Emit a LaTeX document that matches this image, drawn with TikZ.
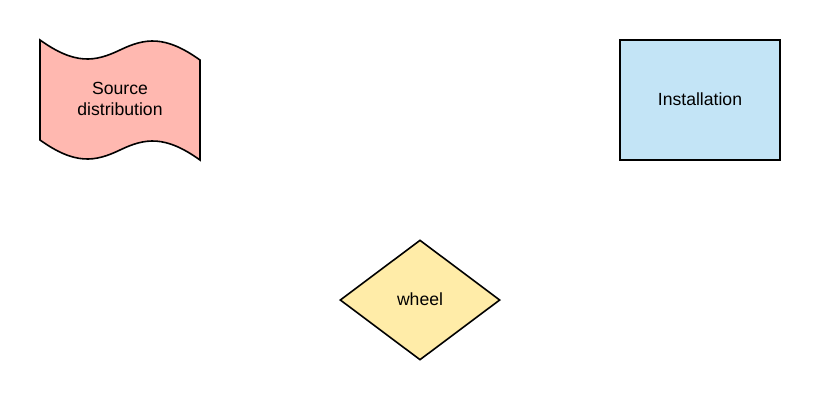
\documentclass[tikz,border=0pt]{standalone}
\usepackage{fontspec}
\setmainfont{Liberation Sans}
\usepackage{tikz}
\usetikzlibrary{shapes.geometric}

\definecolor{tapepink}{HTML}{FFB8B0}
\definecolor{boxblue}{HTML}{C3E4F6}
\definecolor{wheelyellow}{HTML}{FFECA8}

\begin{document}
\begin{tikzpicture}[x=1pt,y=-1pt,line width=1.6pt,
    base node/.style={font=\fontsize{17.6}{21}\selectfont,align=center,text depth=0.25em},
    box node/.style={base node,draw,rectangle,fill=boxblue,minimum width=160pt,minimum height=120pt},
    wheel node/.style={base node,draw,diamond,fill=wheelyellow,minimum width=160pt,minimum height=120pt,inner sep=0pt}]

  \useasboundingbox (0,0) rectangle (820,400);

  % source distribution (tape)
  \filldraw[fill=tapepink] (40,40) .. controls (75,65) and (95,62) .. (120,50)
        .. controls (145,38) and (165,35) .. (200,60) -- (200,160)
        .. controls (165,135) and (145,138) .. (120,150)
        .. controls (95,162) and (75,165) .. (40,140) -- cycle;
  \node[base node] (source) at (120,100) {Source\\distribution};

  \node[box node] (install) at (700,100) {Installation};

  \node[wheel node] (wheel) at (420,300) {wheel};
\end{tikzpicture}
\end{document}
